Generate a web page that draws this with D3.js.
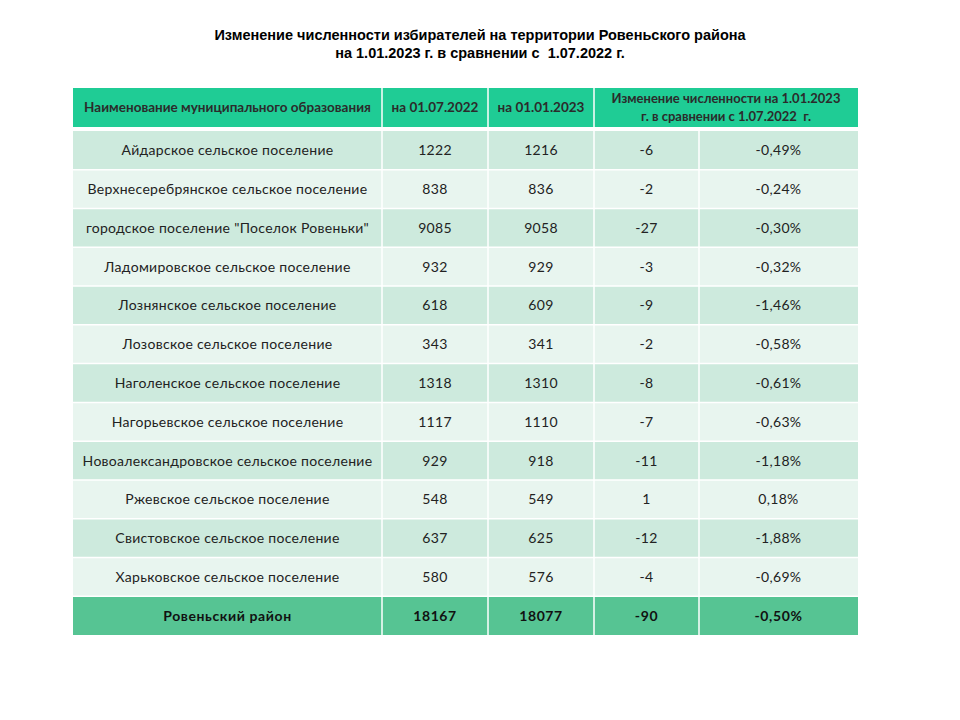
<!DOCTYPE html>
<html>
<head>
<meta charset="utf-8">
<script src="https://cdn.jsdelivr.net/npm/d3@7"></script>
<style>
  body { margin: 0; background: #fff; }
</style>
</head>
<body>
<div id="chart"></div>
<script>
// table data
const names = [
    "Айдарское сельское поселение",
    "Верхнесеребрянское сельское поселение",
    "городское поселение \"Поселок Ровеньки\"",
    "Ладомировское сельское поселение",
    "Лознянское сельское поселение",
    "Лозовское сельское поселение",
    "Наголенское сельское поселение",
    "Нагорьевское сельское поселение",
    "Новоалександровское сельское поселение",
    "Ржевское сельское поселение",
    "Свистовское сельское поселение",
    "Харьковское сельское поселение"
];
const july2022 = [1222, 838, 9085, 932, 618, 343, 1318, 1117, 929, 548, 637, 580];
const jan2023 = [1216, 836, 9058, 929, 609, 341, 1310, 1110, 918, 549, 625, 576];
const diffs = [-6, -2, -27, -3, -9, -2, -8, -7, -11, 1, -12, -4];
const percents = ["-0,49%", "-0,24%", "-0,30%", "-0,32%", "-1,46%", "-0,58%", "-0,61%", "-0,63%", "-1,18%", "0,18%", "-1,88%", "-0,69%"];
const totalRow = ["Ровеньский район", "18167", "18077", "-90", "-0,50%"];
const headers = ["Наименование муниципального образования", "на 01.07.2022", "на 01.01.2023"];
const changeHeader = ["Изменение численности на 1.01.2023", "г. в сравнении с 1.07.2022  г."];

const width = 960, height = 720;
const colEdges = [73, 382, 488, 594, 699, 858];

let svg = d3.select("#chart")
    .append("svg")
    .attr("width", width)
    .attr("height", height);

const titleLines = ["Изменение численности избирателей на территории Ровеньского района",
                    "на 1.01.2023 г. в сравнении с  1.07.2022 г."];
titleLines.forEach(function(t, i) {
    svg.append("text")
        .attr("x", 480).attr("y", 40 + i * 18)
        .attr("text-anchor", "middle")
        .style("font-family", "Liberation Sans, Arial, sans-serif")
        .style("font-weight", "bold")
        .style("font-size", "14.5px")
        .style("white-space", "pre")
        .attr("xml:space", "preserve")
        .text(t);
});

let rows = names.map((n, i) => [n, july2022[i], jan2023[i], diffs[i], percents[i]]);
rows.push(totalRow);

let y = d3.scaleBand()
    .domain(d3.range(rows.length))
    .range([131, 635]);

const font = "Lato, 'Open Sans', sans-serif";

// header
let head = svg.append("g");
head.append("rect")
    .attr("x", colEdges[0]).attr("y", 88)
    .attr("width", colEdges[5] - colEdges[0]).attr("height", 39)
    .attr("fill", "#1fcc95");
headers.forEach(function(h, i) {
    head.append("text")
        .attr("x", (colEdges[i] + colEdges[i + 1]) / 2)
        .attr("y", 112)
        .attr("text-anchor", "middle")
        .style("font-family", font)
        .style("font-weight", "bold")
        .style("font-size", "13.5px")
        .attr("fill", "#2b2b2b")
        .text(h);
});
changeHeader.forEach(function(h, i) {
    head.append("text")
        .attr("x", (colEdges[3] + colEdges[5]) / 2)
        .attr("y", 103 + i * 18)
        .attr("text-anchor", "middle")
        .style("font-family", font)
        .style("font-weight", "bold")
        .style("font-size", "13px")
        .attr("fill", "#2b2b2b")
        .attr("xml:space", "preserve")
        .text(h);
});
[1, 2, 3].forEach(function(c) {
    head.append("line")
        .attr("x1", colEdges[c]).attr("x2", colEdges[c])
        .attr("y1", 88).attr("y2", 127)
        .attr("stroke", "#fff").attr("stroke-width", 1.5);
});

// body rows
let rowG = svg.selectAll(".row")
    .data(rows)
    .enter()
    .append("g")
    .attr("class", "row")
    .attr("transform", (d, i) => `translate(0, ${y(i)})`);

rowG.append("rect")
    .attr("x", colEdges[0])
    .attr("width", colEdges[5] - colEdges[0])
    .attr("height", y.bandwidth())
    .attr("fill", (d, i) => i === rows.length - 1 ? "#56c493" : (i % 2 === 0 ? "#cdeadd" : "#e8f5ef"));

rowG.selectAll("text")
    .data((d, i) => d.map(v => ({ v: v, total: i === rows.length - 1 })))
    .enter()
    .append("text")
    .attr("x", (d, j) => (colEdges[j] + colEdges[j + 1]) / 2)
    .attr("y", y.bandwidth() / 2 + 5)
    .attr("text-anchor", "middle")
    .style("font-family", font)
    .style("font-size", "14px")
    .style("font-weight", d => d.total ? "bold" : "normal")
    .style("letter-spacing", d => d.total ? "0.6px" : "0.3px")
    .attr("fill", d => d.total ? "#111" : "#222")
    .text(d => d.v);

// grid lines
rows.forEach(function(d, i) {
    if (i > 0) {
        svg.append("line")
            .attr("x1", colEdges[0]).attr("x2", colEdges[5])
            .attr("y1", y(i)).attr("y2", y(i))
            .attr("stroke", "#fff").attr("stroke-width", 1.5);
    }
});
[1, 2, 3, 4].forEach(function(c) {
    svg.append("line")
        .attr("x1", colEdges[c]).attr("x2", colEdges[c])
        .attr("y1", 131).attr("y2", 635)
        .attr("stroke", "#fff").attr("stroke-width", 1.5);
});
</script>
</body>
</html>
